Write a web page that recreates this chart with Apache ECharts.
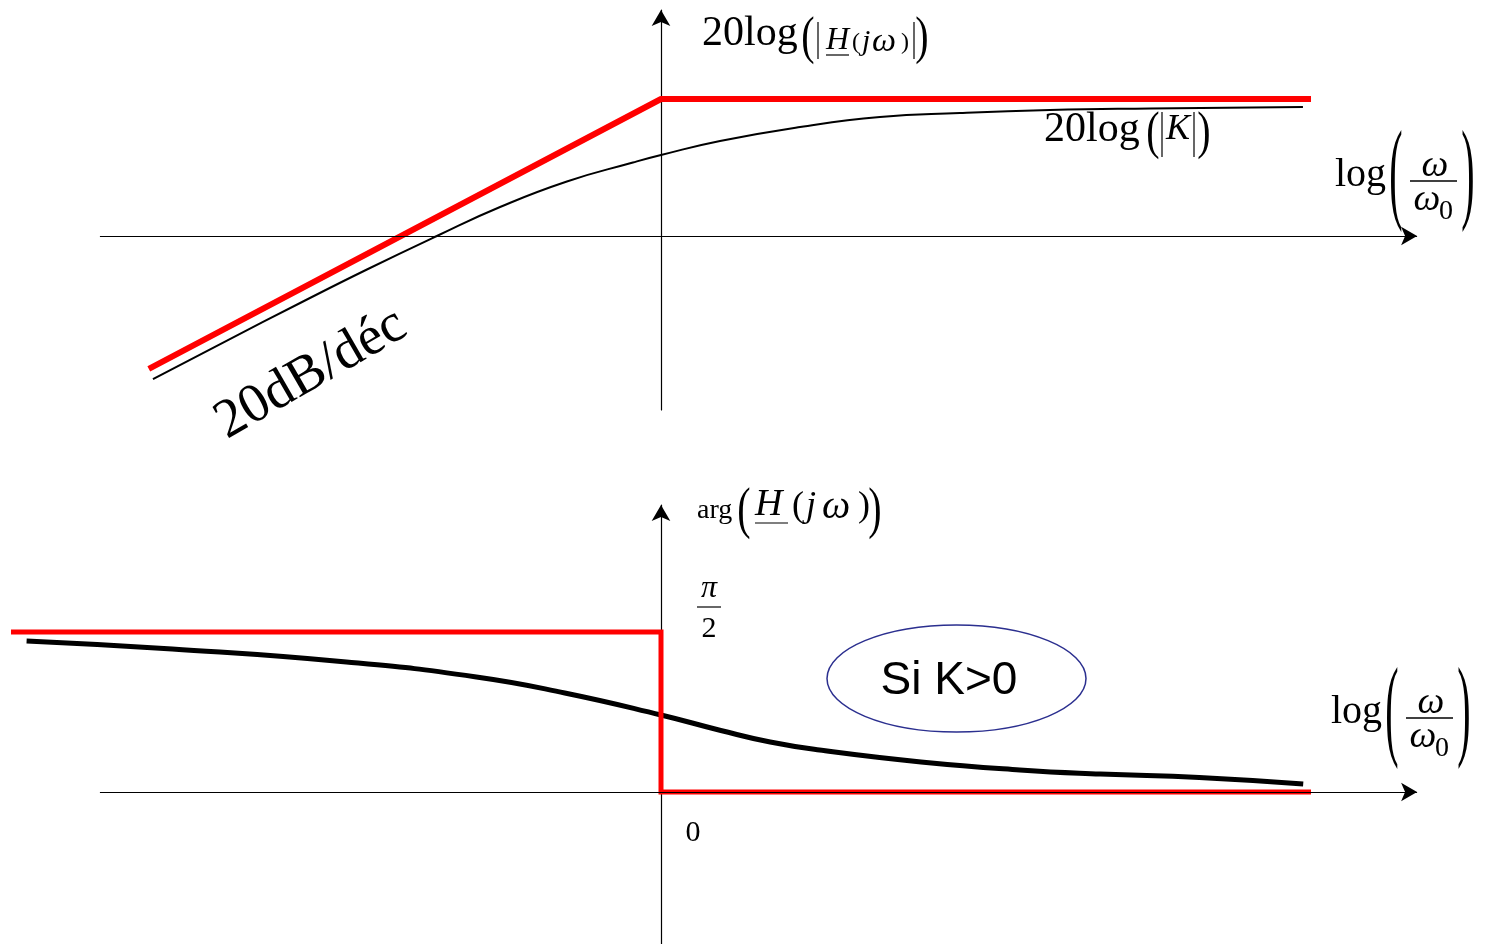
<!DOCTYPE html>
<html>
<head>
<meta charset="utf-8">
<script src="https://cdn.jsdelivr.net/npm/echarts@6/dist/echarts.min.js"></script>
<style>
  html, body { margin: 0; padding: 0; background: #fff; }
  #chart { width: 1485px; height: 944px; }
</style>
</head>
<body>
<div id="chart"></div>
<script>
// x = log(w/w0) in decades, y = dB (top) / degrees (bottom)
const xMin = -2.5423;
const xMax = 2.9115;
const axisStart = -2.158;
const axisEnd = 2.908;

const magAsymptote = [[-1.97, -19.4], [0, 20], [2.5, 20]];
const magCurve = [
  [-1.954, -20.88], [-1.673, -15.33], [-1.388, -9.78], [-1.131, -4.89],
  [-0.862, 0], [-0.619, 4.23], [-0.362, 7.96], [-0.108, 10.73], [0, 11.82],
  [0.227, 13.87], [0.535, 15.91], [0.842, 17.37], [1.15, 17.96],
  [1.496, 18.39], [1.881, 18.61], [2.469, 18.83]
];

const phaseAsymptote = [[-2.5, 90], [0, 90], [0, 0], [2.5, 0]];
const phaseCurve = [
  [-2.44, 84.9], [-1.88, 80.4], [-1.21, 73.1], [-0.71, 64.7],
  [-0.37, 55.7], [0, 43.3], [0.23, 34.6], [0.42, 28.1], [0.61, 23.6],
  [1.0, 16.9], [1.38, 12.4], [1.69, 10.1], [2.07, 8.2], [2.47, 4.5]
];

const serif = "'Liberation Serif', 'DejaVu Serif', serif";

function txt(x, y, s, size, opts) {
  opts = opts || {};
  return {
    type: "text",
    x: x,
    y: y,
    scaleY: opts.scaleY || 1,
    rotation: opts.rotation || 0,
    style: {
      text: s,
      x: 0,
      y: 0,
      font: (opts.italic ? "italic " : "") + size + "px " + (opts.family || serif),
      textAlign: opts.align || "left",
      textVerticalAlign: "middle",
      fill: "#000"
    }
  };
}

function seg(x1, y1, x2, y2, w) {
  return {
    type: "line",
    shape: { x1: x1, y1: y1, x2: x2, y2: y2 },
    style: { stroke: "#000", lineWidth: w || 1.2 }
  };
}

function ratioLabel(dx, dy) {
  return [
    txt(1335 + dx, 175 + dy, "log", 40),
    txt(1396 + dx, 179 + dy, "(", 40, { align: "center", scaleY: 2.8 }),
    txt(1435 + dx, 166 + dy, "ω", 38, { italic: true, align: "center" }),
    seg(1410 + dx, 181 + dy, 1457 + dx, 181 + dy, 1.5),
    txt(1427 + dx, 200 + dy, "ω", 38, { italic: true, align: "center" }),
    txt(1446 + dx, 212 + dy, "0", 28, { align: "center" }),
    txt(1468 + dx, 179 + dy, ")", 40, { align: "center", scaleY: 2.8 })
  ];
}

const graphics = [].concat(
  [
    // 20log(|H(jw)|)
    txt(702, 34, "20log", 42),
    txt(808, 39, "(", 40, { align: "center", scaleY: 1.3 }),
    seg(818, 22, 818, 59),
    txt(826, 41, "H", 32, { italic: true }),
    seg(826, 55, 849, 55),
    txt(852, 43, "(", 24),
    txt(862, 42, "j", 30, { italic: true }),
    txt(872, 42, "ω", 34, { italic: true }),
    txt(901, 43, ")", 24),
    seg(914, 22, 914, 59),
    txt(922, 39, ")", 40, { align: "center", scaleY: 1.3 }),
    // 20log(|K|)
    txt(1044, 130, "20log", 42),
    txt(1153, 134, "(", 40, { align: "center", scaleY: 1.3 }),
    seg(1162, 112, 1162, 157),
    txt(1166, 130, "K", 36, { italic: true }),
    seg(1194, 112, 1194, 157),
    txt(1204, 134, ")", 40, { align: "center", scaleY: 1.3 }),
    // slope
    txt(311, 374, "20dB/déc", 55, { align: "center", rotation: 30 * Math.PI / 180 }),
    // arg(H(jw))
    txt(697, 511, "arg", 28),
    txt(744, 512, "(", 40, { align: "center", scaleY: 1.4 }),
    txt(755, 505, "H", 38, { italic: true }),
    seg(755, 523, 788, 523),
    txt(792, 507, "(", 36),
    txt(806, 507, "j", 36, { italic: true }),
    txt(822, 507, "ω", 40, { italic: true }),
    txt(858, 507, ")", 36),
    txt(875, 512, ")", 40, { align: "center", scaleY: 1.4 }),
    // pi/2 and 0
    txt(709, 589, "π", 32, { italic: true, align: "center" }),
    seg(697, 607, 721, 607, 1.2),
    txt(709, 629, "2", 30, { align: "center" }),
    txt(693, 833, "0", 30, { align: "center" }),
    // Si K>0
    {
      type: "ellipse",
      shape: { cx: 956.5, cy: 678.5, rx: 129.5, ry: 53.5 },
      style: { fill: "none", stroke: "#2b2f8f", lineWidth: 1.5 }
    },
    txt(949, 681, "Si K>0", 46, { align: "center", family: "'Liberation Sans', Arial, sans-serif" })
  ],
  ratioLabel(0, 0),
  ratioLabel(-4, 537)
);

const axisArrow = {
  onZero: true,
  symbol: ["none", "arrow"],
  symbolSize: [14, 16],
  lineStyle: { color: "#000", width: 1.2 }
};

function xAxisLine() {
  return {
    silent: true,
    symbol: ["none", "arrow"],
    symbolSize: [14, 16],
    label: { show: false },
    lineStyle: { color: "#000", width: 1.2, type: "solid" },
    data: [[{ coord: [axisStart, 0] }, { coord: [axisEnd, 0] }]]
  };
}

const chart = echarts.init(document.getElementById("chart"));

const option = {
  animation: false,
  backgroundColor: "#fff",
  grid: [
    { left: 0, right: 67, top: 10, height: 400 },
    { left: 0, right: 67, top: 505, height: 439 }
  ],
  xAxis: [0, 1].map(i => ({
    type: "value",
    gridIndex: i,
    min: xMin,
    max: xMax,
    axisLine: { show: false },
    axisTick: { show: false },
    axisLabel: { show: false },
    splitLine: { show: false }
  })),
  yAxis: [
    {
      type: "value",
      gridIndex: 0,
      min: -25.4,
      max: 32.99,
      axisLine: axisArrow,
      axisTick: { show: false },
      axisLabel: { show: false },
      splitLine: { show: false }
    },
    {
      type: "value",
      gridIndex: 1,
      min: -85.5,
      max: 161.4,
      axisLine: axisArrow,
      axisTick: { show: false },
      axisLabel: { show: false },
      splitLine: { show: false }
    }
  ],
  series: [
    {
      type: "line",
      xAxisIndex: 0,
      yAxisIndex: 0,
      data: magCurve,
      smooth: true,
      symbol: "none",
      z: 2,
      lineStyle: { color: "#000", width: 2 },
      markLine: xAxisLine()
    },
    {
      type: "line",
      xAxisIndex: 0,
      yAxisIndex: 0,
      data: magAsymptote,
      symbol: "none",
      z: 3,
      lineStyle: { color: "#ff0000", width: 6 }
    },
    {
      type: "line",
      xAxisIndex: 1,
      yAxisIndex: 1,
      data: phaseCurve,
      smooth: true,
      symbol: "none",
      z: 2,
      lineStyle: { color: "#000", width: 5 },
      markLine: xAxisLine()
    },
    {
      type: "line",
      xAxisIndex: 1,
      yAxisIndex: 1,
      data: phaseAsymptote,
      symbol: "none",
      z: 3,
      lineStyle: { color: "#ff0000", width: 5, join: "miter" }
    }
  ],
  graphic: graphics
};

chart.setOption(option);
</script>
</body>
</html>
